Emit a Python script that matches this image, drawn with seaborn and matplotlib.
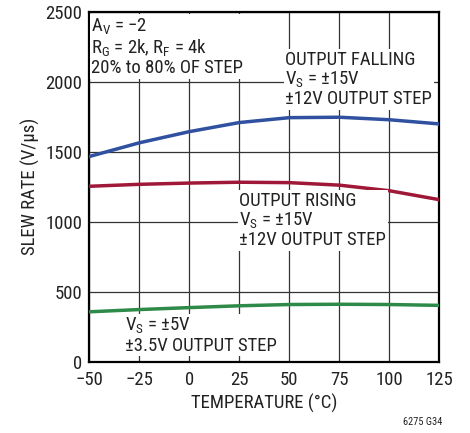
import numpy as np
import pandas as pd
import seaborn as sns
import matplotlib.pyplot as plt
from matplotlib import font_manager

# data
temp = [-50, -25, 0, 25, 50, 75, 100, 125]
falling = [1467, 1565, 1645, 1710, 1745, 1748, 1730, 1700]
rising = [1254, 1268, 1277, 1283, 1280, 1262, 1222, 1158]
vs5 = [356, 372, 386, 399, 408, 410, 408, 402]

df = pd.DataFrame({
    'temp': temp * 3,
    'slew': falling + rising + vs5,
    'curve': ['falling'] * 8 + ['rising'] * 8 + ['vs5'] * 8,
})

sns.set_theme(style='white')
names = {f.name for f in font_manager.fontManager.ttflist}
fam = 'Roboto Condensed' if 'Roboto Condensed' in names else 'DejaVu Sans'
plt.rcParams['font.family'] = [fam, 'DejaVu Sans']
fs = 13.5

fig, ax = plt.subplots(figsize=(4.7, 4.33), dpi=100)
fig.subplots_adjust(left=0.19, right=0.935, top=0.972, bottom=0.165)

palette = {'falling': '#3050a0', 'rising': '#a01838', 'vs5': '#2e8a48'}
sns.lineplot(data=df, x='temp', y='slew', hue='curve', palette=palette,
             linewidth=2.5, legend=False, ax=ax, zorder=3)

ax.set_xlim(-50, 125)
ax.set_ylim(0, 2500)
ax.set_xticks(np.arange(-50, 126, 25))
ax.set_yticks(np.arange(0, 2501, 500))
ax.set_xticklabels(['\u221250', '\u221225', '0', '25', '50', '75', '100', '125'])
ax.grid(True, color='#333333', linewidth=0.9)
ax.tick_params(labelsize=fs, length=0, labelcolor='#222222')
ax.tick_params(axis='x', pad=7)
ax.tick_params(axis='y', pad=5)
for s in ax.spines.values():
    s.set_color('black')
    s.set_linewidth(1.6)
ax.set_xlabel('TEMPERATURE (°C)', fontsize=fs, color='#222222', labelpad=3)
ax.set_ylabel('SLEW RATE (V/\u00b5s)', fontsize=fs, color='#222222')

box = dict(facecolor='white', edgecolor='none', pad=1)
kw = dict(va='top', ha='left', fontsize=fs, linespacing=1.05, bbox=box, zorder=4, color='#222222')
ax.text(-49, 2470, 'A$_\\mathregular{V}$ = \u22122\nR$_\\mathregular{G}$ = 2k, R$_\\mathregular{F}$ = 4k\n20% to 80% OF STEP', **kw)
ax.text(48, 2225, 'OUTPUT FALLING\nV$_\\mathregular{S}$ = \u00b115V\n\u00b112V OUTPUT STEP', **kw)
ax.text(25, 1215, 'OUTPUT RISING\nV$_\\mathregular{S}$ = \u00b115V\n\u00b112V OUTPUT STEP', **kw)
ax.text(-32, 325, 'V$_\\mathregular{S}$ = \u00b15V\n\u00b13.5V OUTPUT STEP', **kw)

fig.text(0.94, 0.015, '6275 G34', ha='right', va='bottom', fontsize=7.5, color='#222222')

fig.savefig('out.png', dpi=100)
